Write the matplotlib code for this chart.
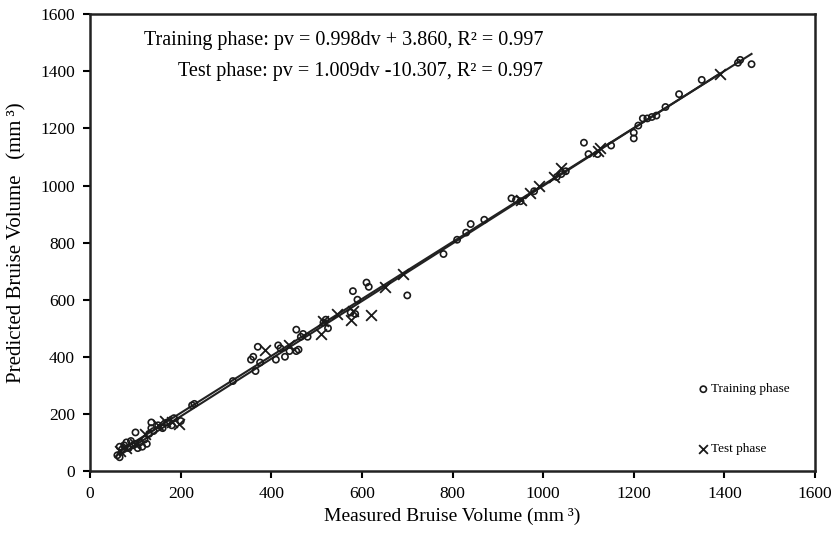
import matplotlib
matplotlib.use('Agg')
import matplotlib.pyplot as plt
import numpy as np

plt.rcParams['font.family'] = ['Liberation Serif', 'DejaVu Serif']

# measured vs predicted bruise volume, training set
train_dv = [60, 65, 65, 70, 75, 80, 85, 90, 95, 100, 100, 105, 110, 115, 120, 125,
            130, 135, 135, 140, 150, 160, 170, 180, 185, 200, 225, 230, 315, 355,
            360, 365, 370, 375, 410, 415, 420, 430, 440, 455, 455, 460, 465, 470,
            480, 515, 520, 525, 575, 580, 585, 590, 610, 615, 700, 780, 810, 830,
            840, 870, 930, 940, 950, 980, 1030, 1040, 1050, 1090, 1100, 1120, 1150,
            1200, 1200, 1210, 1220, 1230, 1240, 1250, 1270, 1300, 1350, 1430, 1435,
            1460]
train_pv = [55, 48, 85, 75, 90, 100, 80, 105, 90, 135, 95, 80, 100, 85, 110, 95,
            130, 150, 170, 140, 160, 150, 170, 160, 185, 175, 230, 235, 315, 390,
            400, 350, 435, 380, 390, 440, 430, 400, 420, 420, 495, 425, 470, 480,
            470, 520, 530, 500, 555, 630, 550, 600, 660, 645, 615, 760, 810, 835,
            865, 880, 955, 950, 945, 980, 1030, 1040, 1050, 1150, 1110, 1110, 1140,
            1165, 1185, 1210, 1235, 1235, 1240, 1245, 1275, 1320, 1370, 1430, 1440,
            1425]

# test set
test_dv = [65, 80, 100, 120, 150, 165, 180, 195, 385, 440, 510, 515, 545, 575,
           580, 620, 650, 690, 950, 970, 990, 1025, 1040, 1120, 1125, 1390]
test_pv = [70, 80, 95, 130, 160, 175, 170, 165, 425, 440, 480, 525, 550, 530,
           560, 545, 645, 690, 950, 975, 1000, 1030, 1060, 1120, 1130, 1390]

# fitted lines
train_fit = (0.998, 3.860)
test_fit = (1.009, -10.307)

fig = plt.figure(figsize=(8.35, 5.47), dpi=100)
ax = fig.add_axes([0.108, 0.139, 0.868, 0.835])

ax.scatter(train_dv, train_pv, s=20, facecolors='none', edgecolors='#1a1a1a',
           linewidths=1.2, zorder=3)
ax.scatter(test_dv, test_pv, s=60, marker='x', color='#1a1a1a',
           linewidths=1.3, zorder=3)

xs = np.array([min(train_dv), max(train_dv)])
ax.plot(xs, train_fit[0] * xs + train_fit[1], color='#222222', lw=1.5, zorder=2)
xs = np.array([min(test_dv), max(test_dv)])
ax.plot(xs, test_fit[0] * xs + test_fit[1], color='#222222', lw=1.5, zorder=2)

ax.set_xlim(0, 1600)
ax.set_ylim(0, 1600)
ax.set_xticks(np.arange(0, 1601, 200))
ax.set_yticks(np.arange(0, 1601, 200))
ax.tick_params(direction='out', length=5, width=1.5, labelsize=12.5, pad=6)
for sp in ax.spines.values():
    sp.set_linewidth(1.8)
    sp.set_color('#222222')

ax.set_xlabel('Measured Bruise Volume (mm\u2009\u00b3)', fontsize=14, labelpad=4)
ax.set_ylabel('Predicted Bruise Volume   (mm\u2009\u00b3)', fontsize=15, labelpad=10)

ax.text(0.625, 0.943, 'Training phase: pv = 0.998dv + 3.860, R\u00b2 = 0.997',
        transform=ax.transAxes, ha='right', va='center', fontsize=14.5)
ax.text(0.625, 0.875, 'Test phase: pv = 1.009dv -10.307, R\u00b2 = 0.997',
        transform=ax.transAxes, ha='right', va='center', fontsize=14.5)

# hand-placed key
ax.scatter([0.846], [0.179], s=20, facecolors='none', edgecolors='#1a1a1a',
           linewidths=1.2, transform=ax.transAxes, clip_on=False)
ax.text(0.857, 0.179, 'Training phase', transform=ax.transAxes,
        ha='left', va='center', fontsize=9.5)
ax.scatter([0.846], [0.048], s=40, marker='x', color='#1a1a1a',
           linewidths=1.3, transform=ax.transAxes, clip_on=False)
ax.text(0.857, 0.048, 'Test phase', transform=ax.transAxes,
        ha='left', va='center', fontsize=9.5)

fig.savefig('out.png', dpi=100)
